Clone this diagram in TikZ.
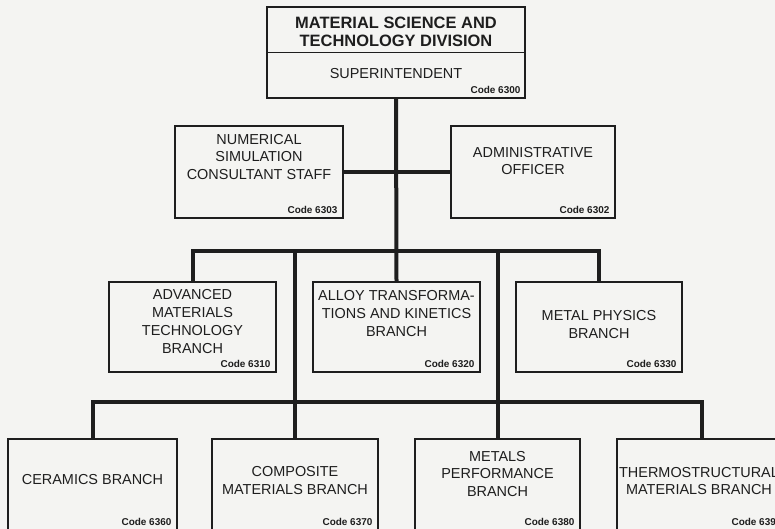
\documentclass[tikz,border=0pt]{standalone}
\usepackage{fontspec}
\setmainfont{Liberation Sans}
\usetikzlibrary{positioning}
\definecolor{ink}{HTML}{1E1E1E}
\definecolor{paper}{HTML}{F4F4F2}
\tikzset{box/.style={draw=ink,line width=1.2bp,minimum width=#1,minimum height=91bp,inner sep=0pt},box/.default=167bp,conn/.style={draw=ink,line width=4bp},lab/.style={align=center,text=ink,inner sep=0pt,font=\fontsize{14.5}{18}\selectfont},code/.style={anchor=east,text=ink,inner sep=0pt,font=\bfseries\fontsize{10}{12}\selectfont}}

\begin{document}
\begin{tikzpicture}[x=1bp,y=-1bp]
\useasboundingbox (0,0) rectangle (775,529);
\fill[paper] (0,0) rectangle (775,529);
\clip (0,0) rectangle (775,529);
% division head
\node[box=258bp] (div) at (396,52.5) {};
\draw[ink,line width=1.2bp] (div.west) -- (div.east);
\node[lab,font=\bfseries\fontsize{16.5}{18.5}\selectfont] (divT) at (396,32) {MATERIAL SCIENCE AND\\TECHNOLOGY DIVISION};
\node[lab] (supT) at (396,74) {SUPERINTENDENT};
\node[code] at ([xshift=-5bp,yshift=9bp]div.south east) {Code 6300};
% staff
\node[box=168bp,minimum height=92bp] (num) at (259,172) {};
\node[lab] at (259,157) {NUMERICAL\\SIMULATION\\CONSULTANT STAFF};
\node[code] at ([xshift=-6bp,yshift=9bp]num.south east) {Code 6303};
\node[box=164bp,minimum height=92bp] (adm) at (533,172) {};
\node[lab] at (533,161) {ADMINISTRATIVE\\OFFICER};
\node[code] at ([xshift=-6bp,yshift=9bp]adm.south east) {Code 6302};
% first row of branches
\node[box,minimum height=90bp] (adv) at (192.5,327) {};
\node[lab] at (192.5,321.5) {ADVANCED\\MATERIALS\\TECHNOLOGY\\BRANCH};
\node[code] at ([xshift=-6bp,yshift=9bp]adv.south east) {Code 6310};
\node[box,minimum height=90bp] (alloy) at (396.5,327) {};
\node[lab] at (396.5,313.5) {ALLOY TRANSFORMA-\\TIONS AND KINETICS\\BRANCH};
\node[code] at ([xshift=-6bp,yshift=9bp]alloy.south east) {Code 6320};
\node[box=166bp,minimum height=90bp] (metal) at (599,327) {};
\node[lab] at (599,324.5) {METAL PHYSICS\\BRANCH};
\node[code] at ([xshift=-6bp,yshift=9bp]metal.south east) {Code 6330};
% second row of branches
\node[box=169bp] (cer) at (92.5,484.5) {};
\node[lab] at (92.5,480) {CERAMICS BRANCH};
\node[code] at ([xshift=-6bp,yshift=9bp]cer.south east) {Code 6360};
\node[box=166bp] (comp) at (295,484.5) {};
\node[lab] at (295,480.5) {COMPOSITE\\MATERIALS BRANCH};
\node[code] at ([xshift=-6bp,yshift=9bp]comp.south east) {Code 6370};
\node[box=165bp] (mets) at (497.5,484.5) {};
\node[lab] at (497.5,474) {METALS\\PERFORMANCE\\BRANCH};
\node[code] at ([xshift=-6bp,yshift=9bp]mets.south east) {Code 6380};
\node[box=170bp] (therm) at (702,484.5) {};
\node[lab] at (699,481) {THERMOSTRUCTURAL\\MATERIALS BRANCH};
\node[code] at ([xshift=-6bp,yshift=9bp]therm.south east) {Code 6390};
% connectors
\coordinate (j1) at (396,251);
\coordinate (j2) at (396,402);
\draw[conn] (div.south) -- (alloy.north);
\draw[conn] (num.east) -- (adm.west);
\draw[conn] (adv.north) |- (j1) -| (metal.north);
\draw[conn] (cer.north) |- (j2) -| (therm.north);
\draw[conn] (comp.north) -- (comp.north |- j1);
\draw[conn] (mets.north) -- (mets.north |- j1);
\end{tikzpicture}
\end{document}
